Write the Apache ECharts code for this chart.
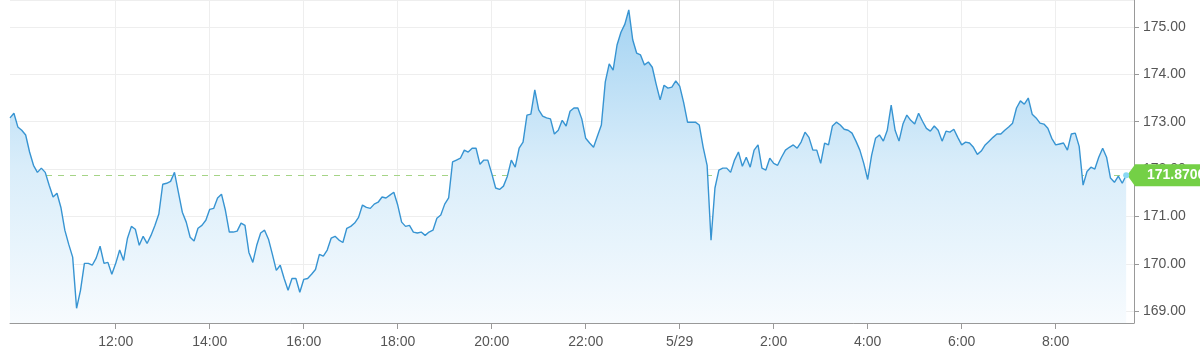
<!DOCTYPE html>
<html>
<head>
<meta charset="utf-8">
<script src="https://cdn.jsdelivr.net/npm/echarts@6/dist/echarts.min.js"></script>
<style>
html,body{margin:0;padding:0;background:#fff;}
#chart{width:1200px;height:355px;}
</style>
</head>
<body>
<div id="chart"></div>
<script>
// Time grid: 5-minute steps starting 09:45 (5/28) to 09:40 (5/29)
const startMinute = 9 * 60 + 45;
const stepMinutes = 5;
const slotCount = 288;
const dayLabel = '5/29';
const lastPriceLabel = '171.8700';
const lastPrice = 171.87;

const prices = [
173.08,173.18,172.89,172.82,172.72,172.36,172.08,171.93,172.02,171.93,
171.66,171.41,171.49,171.19,170.71,170.41,170.14,169.06,169.44,170.01,
170.01,169.97,170.12,170.37,170.01,170.03,169.78,170.01,170.29,170.07,
170.54,170.79,170.73,170.39,170.58,170.43,170.60,170.81,171.05,171.68,
171.70,171.74,171.93,171.51,171.09,170.88,170.56,170.48,170.75,170.81,
170.92,171.15,171.17,171.39,171.47,171.13,170.67,170.67,170.69,170.86,
170.81,170.24,170.03,170.39,170.65,170.71,170.52,170.20,169.86,169.97,
169.69,169.44,169.69,169.69,169.40,169.67,169.69,169.78,169.88,170.20,
170.16,170.29,170.54,170.58,170.50,170.45,170.75,170.79,170.86,170.98,
171.24,171.19,171.17,171.26,171.30,171.41,171.39,171.45,171.51,171.24,
170.88,170.79,170.81,170.67,170.65,170.67,170.60,170.67,170.71,170.96,
171.03,171.26,171.39,172.15,172.19,172.23,172.40,172.36,172.44,172.44,
172.10,172.19,172.19,171.91,171.60,171.57,171.64,171.85,172.19,172.04,
172.44,172.57,173.14,173.16,173.67,173.25,173.12,173.08,173.06,172.74,
172.82,173.03,172.91,173.22,173.29,173.29,173.06,172.65,172.55,172.46,
172.70,172.93,173.84,174.22,174.09,174.62,174.89,175.06,175.36,174.73,
174.45,174.41,174.20,174.26,174.15,173.79,173.46,173.77,173.71,173.73,
173.86,173.75,173.41,172.99,172.99,172.99,172.93,172.46,172.08,170.50,
171.60,171.98,172.02,172.02,171.93,172.19,172.36,172.06,172.25,172.04,
172.40,172.51,172.02,171.98,172.23,172.12,172.08,172.25,172.40,172.46,
172.51,172.44,172.57,172.78,172.67,172.40,172.40,172.12,172.55,172.51,
172.91,172.99,172.93,172.84,172.82,172.76,172.59,172.40,172.12,171.78,
172.29,172.65,172.72,172.59,172.82,173.35,172.82,172.59,172.95,173.14,
173.03,172.95,173.18,173.01,172.86,172.80,172.91,172.82,172.59,172.80,
172.78,172.84,172.67,172.51,172.57,172.55,172.46,172.31,172.38,172.51,
172.59,172.67,172.74,172.74,172.82,172.89,172.97,173.29,173.44,173.37,
173.50,173.16,173.08,172.97,172.95,172.86,172.65,172.51,172.53,172.55,
172.40,172.74,172.76,172.48,171.66,171.95,172.04,172.00,172.25,172.44,
172.25,171.81,171.72,171.85,171.70,171.87
];

const times = [];
for (let i = 0; i < slotCount; i++) {
  const m = (startMinute + i * stepMinutes) % 1440;
  const h = Math.floor(m / 60), mm = m % 60;
  times.push(h + ':' + (mm < 10 ? '0' + mm : mm));
}
const isMajor = (idx, val) => {
  const p = String(val).split(':').map(Number);
  return p[1] === 0 && p[0] % 2 === 0 && p[0] !== 10;
};
const lastIdx = prices.length - 1;
const FONT = 'Arial, "Liberation Sans", sans-serif';

const chart = echarts.init(document.getElementById('chart'), null, {renderer: 'canvas'});
chart.setOption({
  animation: false,
  backgroundColor: '#fff',
  grid: {left: 10, right: 66, top: 0, bottom: 32},
  xAxis: {
    type: 'category',
    data: times,
    boundaryGap: false,
    axisLine: {lineStyle: {color: '#999', width: 1}},
    axisTick: {show: true, interval: isMajor, length: 6, lineStyle: {color: '#999'}},
    axisLabel: {
      interval: isMajor, color: '#555', fontSize: 14, fontFamily: FONT, margin: 12,
      formatter: v => v === '0:00' ? dayLabel : v
    },
    splitLine: {show: true, interval: isMajor, lineStyle: {color: '#eee', width: 1}}
  },
  yAxis: {
    type: 'value',
    position: 'right',
    min: 168.75,
    max: 175.57,
    scale: true,
    axisLine: {show: true, lineStyle: {color: '#999'}},
    axisTick: {show: true, length: 5, lineStyle: {color: '#999'}},
    axisLabel: {
      color: '#555', fontSize: 14, fontFamily: FONT, margin: 9,
      showMinLabel: false, showMaxLabel: false,
      formatter: v => v.toFixed(2)
    },
    splitLine: {show: true, lineStyle: {color: '#eee'}}
  },
  series: [
    {
      type: 'line',
      data: [],
      z: 1,
      silent: true,
      markLine: {
        z: 1,
        silent: true,
        symbol: 'none',
        label: {show: false},
        data: [
          {yAxis: lastPrice, lineStyle: {color: '#a5d486', type: [6, 6], width: 1}},
          {xAxis: '0:00', lineStyle: {color: '#cfcfcf', type: 'solid', width: 1}}
        ]
      }
    },
    {
      type: 'line',
      data: prices,
      z: 3,
      clip: false,
      showSymbol: false,
      symbol: 'none',
      lineStyle: {color: '#3794d2', width: 1.4},
      areaStyle: {
        opacity: 1,
        color: new echarts.graphic.LinearGradient(0, 0, 0, 1, [
          {offset: 0, color: '#a4d3f2'},
          {offset: 0.5, color: '#d9edfa'},
          {offset: 1, color: '#f7fbfe'}
        ])
      },
      markPoint: {
        z: 6,
        silent: true,
        data: [
          {
            coord: [times[lastIdx], prices[lastIdx]],
            symbol: 'path://M0,11 L9,0 L90,0 L90,22 L9,22 Z',
            symbolSize: [80, 22],
            symbolKeepAspect: false,
            symbolOffset: [41, 0],
            itemStyle: {color: '#74d046'},
            label: {show: true, formatter: lastPriceLabel, color: '#fff', fontSize: 14, fontWeight: 'bold', fontFamily: FONT, offset: [9, 0]}
          },
          {
            coord: [times[lastIdx], prices[lastIdx]],
            symbol: 'circle',
            symbolSize: 6,
            itemStyle: {color: '#8ad8f4'},
            label: {show: false}
          }
        ]
      }
    }
  ]
});
</script>
</body>
</html>
